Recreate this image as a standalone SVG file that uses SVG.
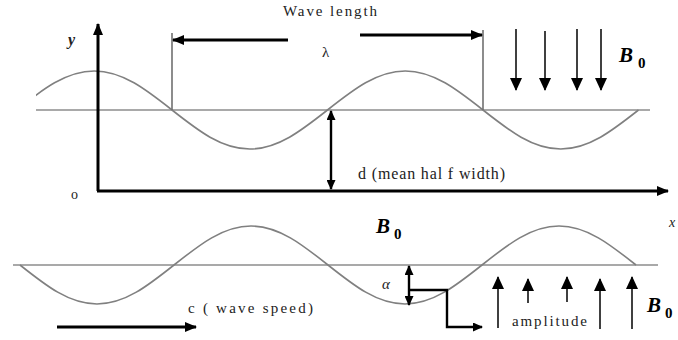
<svg xmlns="http://www.w3.org/2000/svg" width="678" height="340" viewBox="0 0 678 340">
<style>
  .wave{fill:none;stroke:#808080;stroke-width:1.6}
  .base{stroke:#8c8c8c;stroke-width:1.6}
  .guide{stroke:#707070;stroke-width:1.6}
  .thick{stroke:#000;stroke-width:3;fill:none}
  .mid{stroke:#000;stroke-width:2.4;fill:none}
  .thin{stroke:#000;stroke-width:1.5;fill:none}
  .t{font-family:"Liberation Serif","Times New Roman",serif;font-size:15px;fill:#222}
  .it{font-style:italic}
  .B{font-family:"Liberation Serif","DejaVu Serif",serif;font-weight:bold;font-style:italic;font-size:21px;fill:#000}
  .sub{font-family:"Liberation Serif","DejaVu Serif",serif;font-weight:bold;font-size:15px;fill:#000}
</style>
<defs>
  <marker id="ah" markerUnits="userSpaceOnUse" markerWidth="12" markerHeight="10" refX="11" refY="5" orient="auto-start-reverse">
    <path d="M0,0 L12,5 L0,10 z" fill="#000"/>
  </marker>
  <marker id="ahs" markerUnits="userSpaceOnUse" markerWidth="10" markerHeight="9" refX="9" refY="4.5" orient="auto-start-reverse">
    <path d="M0,0 L10,4.5 L0,9 z" fill="#000"/>
  </marker>
  <marker id="ahf" markerUnits="userSpaceOnUse" markerWidth="13" markerHeight="12" refX="12" refY="6" orient="auto">
    <path d="M0,0 L13,6 L0,12 z" fill="#000"/>
  </marker>
  <clipPath id="topclip"><rect x="36" y="0" width="620" height="200"/></clipPath>
</defs>

<g id="top-wave">
  <line class="base" x1="36" y1="110" x2="650" y2="110"/>
  <path class="wave" clip-path="url(#topclip)" d="M16.5 110 c26 -20.5 49.5 -39 77.75 -39 s51.75 18.5 77.75 39 s49.5 39 77.75 39 s51.75 -18.5 77.75 -39 s49.5 -39 77.75 -39 s51.75 18.5 77.75 39 s49.5 39 77.75 39 s51.75 -18.5 77.75 -39"/>
</g>

<g id="bottom-wave">
  <line class="base" x1="13" y1="265" x2="658" y2="265"/>
  <path class="wave" d="M20 265 c25.74 20.48 49.02 39 77 39 s51.26 -18.52 77 -39 s49.02 -39 77 -39 s51.26 18.52 77 39 s49.02 39 77 39 s51.26 -18.52 77 -39 s49.02 -39 77 -39 s51.26 18.52 77 39"/>
</g>

<g id="axes">
  <line class="thick" x1="98" y1="191" x2="98" y2="24" marker-end="url(#ah)"/>
  <line class="thick" x1="97" y1="191" x2="668" y2="191" marker-end="url(#ah)"/>
  <text class="t it" x="68" y="45" style="font-size:16px;font-weight:bold">y</text>
  <text class="t" x="71" y="199" style="font-size:14px">o</text>
  <text class="t it" x="669" y="227" style="font-size:14px">x</text>
</g>

<g id="wavelength">
  <line class="guide" x1="172" y1="33" x2="172" y2="110"/>
  <line class="guide" x1="483" y1="30" x2="483" y2="110"/>
  <line class="thick" x1="288" y1="40" x2="173" y2="40" marker-end="url(#ah)"/>
  <line class="thick" x1="360" y1="35" x2="482" y2="35" marker-end="url(#ah)"/>
  <text class="t" x="283" y="16" textLength="94" lengthAdjust="spacing">Wave length</text>
  <text class="t" x="322" y="57">λ</text>
</g>

<g id="half-width">
  <line class="mid" x1="331" y1="111" x2="331" y2="189" marker-start="url(#ahs)" marker-end="url(#ahs)"/>
  <text class="t" x="358" y="179" style="font-size:16px" textLength="147" lengthAdjust="spacing">d (mean hal f width)</text>
</g>

<g id="field-top">
  <line class="thin" x1="516" y1="29" x2="516" y2="90" marker-end="url(#ahf)"/>
  <line class="thin" x1="545" y1="31" x2="545" y2="90" marker-end="url(#ahf)"/>
  <line class="thin" x1="577" y1="29" x2="577" y2="90" marker-end="url(#ahf)"/>
  <line class="thin" x1="601" y1="29" x2="601" y2="90" marker-end="url(#ahf)"/>
  <text class="B" x="619" y="62">B</text>
  <text class="sub" x="638" y="68">0</text>
</g>

<g id="field-mid">
  <text class="B" x="376" y="233">B</text>
  <text class="sub" x="394" y="239">0</text>
</g>

<g id="field-bottom">
  <line class="thin" x1="498" y1="328" x2="498" y2="277" marker-end="url(#ahf)"/>
  <line class="thin" x1="528" y1="303" x2="528" y2="279" marker-end="url(#ahf)"/>
  <line class="thin" x1="567" y1="302" x2="567" y2="277" marker-end="url(#ahf)"/>
  <line class="thin" x1="600" y1="329" x2="600" y2="279" marker-end="url(#ahf)"/>
  <line class="thin" x1="632" y1="329" x2="632" y2="277" marker-end="url(#ahf)"/>
  <text class="B" x="647" y="312">B</text>
  <text class="sub" x="665" y="318">0</text>
</g>

<g id="amplitude">
  <line class="mid" x1="409" y1="266" x2="409" y2="305" marker-start="url(#ahs)" marker-end="url(#ahs)"/>
  <text class="t it" x="382" y="289">α</text>
  <path class="mid" d="M409 290 H447 V327 H482" marker-end="url(#ahs)"/>
  <text class="t" x="512" y="326" textLength="75" lengthAdjust="spacing">amplitude</text>
</g>

<g id="wave-speed">
  <line class="thick" x1="57" y1="327" x2="196" y2="327" stroke-width="3.5" marker-end="url(#ah)"/>
  <text class="t" x="188" y="313" textLength="125" lengthAdjust="spacing">c ( wave speed)</text>
</g>
</svg>
